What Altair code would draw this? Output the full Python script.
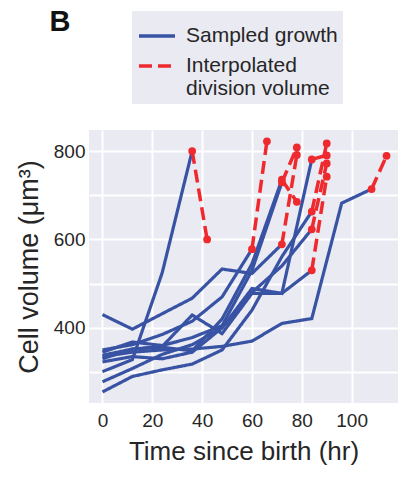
import altair as alt
import pandas as pd

# ---- data ----
times = [0, 12, 24, 36, 48, 60, 72, 84, 96, 108]

growth_volumes = [
    [301, 328, 525, 800],
    [430, 397, 432, 467, 533, 523, 589],
    [350, 362, 385, 415, 470, 578],
    [345, 368, 360, 378, 405, 530, 729],
    [338, 352, 356, 348, 420, 545, 735],
    [335, 345, 350, 352, 358, 370, 410, 421, 682, 714],
    [330, 352, 358, 429, 387, 478, 478, 530],
    [278, 308, 340, 362, 400, 489, 478, 781],
    [255, 290, 305, 318, 350, 440, 561, 663],
    [323, 335, 330, 345, 400, 480, 540, 623],
]

division_times = [42, 78, 66, 78, 78, 114, 90, 90, 90, 90]
division_volumes = [600, 791, 822, 808, 685, 789, 742, 790, 817, 772]

kinds = ["Sampled growth", "Interpolated division volume"]
x_ticks = [0, 20, 40, 60, 80, 100]
y_grid = [300, 400, 500, 600, 700, 800]

BLUE = "#3953a4"
RED = "#ef2a2f"
BG = "#eaeaf2"
TXT = "#262626"
FONT = "Liberation Sans"

rows = []
for i, vols in enumerate(growth_volumes):
    for t, v in zip(times, vols):
        rows.append({"t": t, "v": v, "kind": kinds[0], "seg": f"g{i}"})
    rows.append({"t": times[len(vols) - 1], "v": vols[-1], "kind": kinds[1], "seg": f"d{i}"})
    rows.append({"t": division_times[i], "v": division_volumes[i], "kind": kinds[1], "seg": f"d{i}"})
df = pd.DataFrame(rows)

legend = alt.Legend(
    title=None,
    orient="none",
    legendX=43,
    legendY=-119,
    fillColor=BG,
    padding=5,
    labelFont=FONT,
    labelFontSize=21,
    labelColor=TXT,
    labelOffset=9,
    labelLimit=400,
    symbolType="stroke",
    symbolSize=1296,
    symbolStrokeWidth=3.3,
    rowPadding=0,
    labelExpr="datum.label == 'Interpolated division volume' ? ['Interpolated', 'division volume'] : datum.label",
)

x_enc = alt.X(
    "t:Q",
    scale=alt.Scale(domain=[-5.4, 118.6], nice=False, zero=False),
    axis=alt.Axis(values=x_ticks, title="Time since birth (hr)", labelPadding=8, titlePadding=8),
)
y_enc = alt.Y(
    "v:Q",
    scale=alt.Scale(domain=[230, 847.5], nice=False, zero=False),
    axis=alt.Axis(
        values=y_grid,
        labelExpr="datum.value % 200 == 0 ? datum.label : ''",
        title="Cell volume (μm³)",
        labelPadding=4,
        titlePadding=10,
        titleFontSize=27,
    ),
)
color_enc = alt.Color("kind:N", scale=alt.Scale(domain=kinds, range=[BLUE, RED]), legend=legend)
dash_enc = alt.StrokeDash("kind:N", scale=alt.Scale(domain=kinds, range=[[1, 0], [13, 6]]), legend=legend)

base = alt.Chart(df)

blue_lines = base.transform_filter(alt.datum.kind == kinds[0]).mark_line(strokeWidth=3.2).encode(
    x=x_enc, y=y_enc, color=color_enc, strokeDash=dash_enc, detail="seg:N", order="t:Q"
)
red_lines = base.transform_filter(alt.datum.kind == kinds[1]).mark_line(strokeWidth=3.5).encode(
    x=x_enc, y=y_enc, color=color_enc, strokeDash=dash_enc, detail="seg:N", order="t:Q"
)
red_points = base.transform_filter(alt.datum.kind == kinds[1]).mark_circle(size=60, opacity=1, color=RED).encode(
    x=x_enc, y=y_enc
)

panel_label = alt.Chart(pd.DataFrame({"lab": ["B"]})).mark_text(
    font=FONT, fontSize=29, fontWeight="bold", color="#111", align="center", baseline="alphabetic"
).encode(text="lab:N", x=alt.value(-29), y=alt.value(-99))

chart = alt.layer(blue_lines, red_lines, red_points, panel_label).properties(
    width=309,
    height=273,
    autosize=alt.AutoSizeParams(type="none"),
    padding={"left": 89, "top": 130, "right": 3, "bottom": 74},
).configure_view(fill=BG, stroke=None).configure_axis(
    domain=False,
    ticks=False,
    grid=True,
    gridColor="white",
    gridWidth=2,
    labelFont=FONT,
    labelFontSize=19,
    labelColor=TXT,
    titleFont=FONT,
    titleFontSize=26,
    titleFontWeight="normal",
    titleColor=TXT,
)

chart.save("out.html", embed_options={"renderer": "svg", "actions": False})
